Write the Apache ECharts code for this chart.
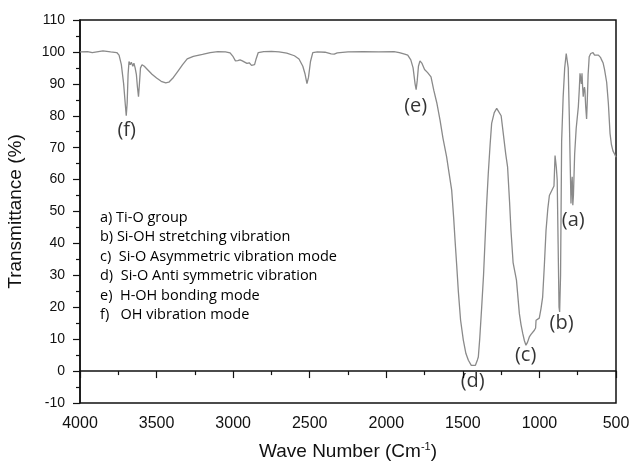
<!DOCTYPE html>
<html>
<head>
<meta charset="utf-8">
<script src="https://cdn.jsdelivr.net/npm/echarts@6/dist/echarts.min.js"></script>
<style>
  html, body { margin: 0; padding: 0; background: #fff; }
  #chart { width: 632px; height: 461px; }
</style>
</head>
<body>
<div id="chart"></div>
<script>
// FTIR spectrum: wave number (cm^-1) and transmittance (%)
const waveNumber = [
  4000, 3950, 3920, 3850, 3800, 3760, 3745, 3730, 3715, 3705, 3698, 3692, 3686, 3680,
  3672, 3665, 3655, 3648, 3640, 3632, 3625, 3618, 3612, 3605, 3595, 3580, 3560, 3530,
  3500, 3470, 3440, 3420, 3390, 3360, 3330, 3300, 3260, 3200, 3150, 3100, 3050, 3020,
  3000, 2985, 2970, 2955, 2940, 2925, 2910, 2895, 2880, 2870, 2860, 2850, 2836, 2800,
  2750, 2700, 2650, 2600, 2570, 2545, 2530, 2518, 2508, 2495, 2480, 2450, 2400, 2360,
  2340, 2320, 2250, 2150, 2050, 1950, 1915, 1880, 1860, 1840, 1825, 1812, 1805, 1798,
  1790, 1780, 1768, 1750, 1730, 1708, 1690, 1670, 1649, 1630, 1606, 1590, 1573, 1560,
  1551, 1540, 1530, 1515, 1497, 1480, 1464, 1445, 1432, 1418, 1405, 1399, 1390, 1377,
  1365, 1355, 1345, 1334, 1322, 1312, 1295, 1279, 1266, 1250, 1235, 1220, 1208, 1195,
  1186, 1172, 1160, 1150, 1131, 1120, 1109, 1098, 1088, 1078, 1066, 1055, 1045, 1033,
  1025, 1022, 1010, 1001, 990, 979, 968, 957, 945, 935, 928, 915, 905, 898,
  890, 884, 878, 872, 868, 862, 855, 845, 835, 825, 818, 812, 805, 800,
  797, 794, 790, 786, 782, 778, 770, 760, 746, 740, 735, 730, 726, 722,
  718, 714, 710, 706, 703, 698, 692, 688, 682, 675, 665, 659, 650, 640,
  627, 615, 600, 594, 584, 575, 561, 550, 539, 530, 520, 506, 500
];
const transmittance = [
  100, 100.1, 99.8, 100.3, 100, 99.8, 99, 96, 90, 84, 80, 84, 93, 97,
  96, 96.8, 95.5, 96.5, 95, 93, 89, 86, 90, 95, 96, 95.5, 94.5, 93,
  91.8, 90.8, 90.3, 90.5, 92, 94, 96, 97.8, 98.6, 99.2, 99.8, 100.1, 100, 99.7,
  98.5, 97.2, 97.3, 97.5, 97.2, 96.8, 96.4, 96.6, 95.8, 95.4, 96, 97.8, 99.8, 100.1,
  100.2, 100, 99.6, 98.8, 97.8, 95.5, 93, 90.1, 92, 97, 99.8, 100, 99.9, 99.4,
  99.3, 99.7, 100, 100.1, 100, 100.1, 99.8, 99.3, 99, 97.5, 95, 90, 88.2, 91,
  95.5, 97.2, 96.5, 94.5, 93.5, 92.2, 88, 84, 78.6, 73, 67.1, 62, 56.7, 48,
  41, 33, 25.3, 16, 9.7, 5.5, 3.4, 1.8, 1.3, 1.8, 3.5, 4.4, 10, 20.1,
  30, 41, 52, 61.9, 71, 77.6, 81, 82.3, 82, 80, 74, 68, 64, 53,
  44.2, 34, 31, 28.5, 18, 14.5, 11.8, 9.5, 8.1, 9, 10.7, 11.5, 12, 12.8,
  13.5, 15.9, 16.4, 16.6, 19.5, 23.2, 33, 44, 51, 55, 55.7, 55.8, 58, 67.5,
  64, 60, 40, 20, 18.5, 30, 72, 86, 95, 99.5, 99.7, 95, 80, 67,
  60, 52.5, 58, 60.9, 52, 55, 68, 76, 82.8, 88, 93.3, 93.6, 90, 93.3,
  89, 86, 88, 89, 88, 83, 79, 84, 93, 98.5, 99.5, 100, 99.8, 99,
  98.8, 99, 98.2, 97.5, 96.5, 94.5, 90.5, 84, 74.5, 71, 69, 67.7, 67
];

// Band markers placed next to the absorption peaks: [wave number, transmittance, tag]
const bandTags = [
  [3695, 75.3, '(f)'],
  [1808, 83.0, '(e)'],
  [1436, -3.3, '(d)'],
  [1090, 4.8, '(c)'],
  [855, 14.9, '(b)'],
  [779, 47.3, '(a)']
];

// Band assignments listed inside the plot
const assignments = [
  'a) Ti-O group',
  'b) Si-OH stretching vibration',
  'c)  Si-O Asymmetric vibration mode',
  'd)  Si-O Anti symmetric vibration',
  'e)  H-OH bonding mode',
  'f)   OH vibration mode'
];

const xTicks = { min: 500, max: 4000, step: 500 };
const yTicks = { min: -10, max: 110, step: 10 };

const spectrum = waveNumber.map((w, i) => [w, transmittance[i]]);

const chart = echarts.init(document.getElementById('chart'), null, { renderer: 'canvas' });

const axisFont = 'Liberation Sans, Arial, sans-serif';
const noteFont = 'Open Sans, sans-serif';

chart.setOption({
  animation: false,
  backgroundColor: '#fff',
  grid: {
    left: 80, right: 16, top: 20, bottom: 58,
    containLabel: false,
    outerBoundsMode: 'none',
    show: true, borderColor: '#111', borderWidth: 1.5, backgroundColor: 'transparent'
  },
  xAxis: {
    type: 'value',
    inverse: true,
    min: xTicks.min, max: xTicks.max, interval: xTicks.step,
    name: 'Wave Number (Cm{sup|-1})',
    nameLocation: 'middle',
    nameGap: 38,
    nameTextStyle: {
      fontFamily: axisFont, fontSize: 19, color: '#111',
      rich: { sup: { fontFamily: axisFont, fontSize: 11, color: '#111', verticalAlign: 'top', padding: [0, 0, 10, 0] } }
    },
    axisLine: { lineStyle: { color: '#111', width: 1.5 } },
    axisTick: { inside: false, length: 7, lineStyle: { color: '#111', width: 1.2 } },
    minorTick: { show: true, splitNumber: 2, length: 4, lineStyle: { color: '#111', width: 1.2 } },
    axisLabel: { fontFamily: axisFont, fontSize: 16, color: '#111', margin: 13, formatter: v => String(v) },
    splitLine: { show: false }
  },
  yAxis: {
    type: 'value',
    min: yTicks.min, max: yTicks.max, interval: yTicks.step,
    name: 'Transmittance (%)',
    nameLocation: 'middle',
    nameGap: 55,
    nameTextStyle: { fontFamily: axisFont, fontSize: 19, color: '#111' },
    axisLine: { show: true, lineStyle: { color: '#111', width: 1.5 } },
    axisTick: { show: true, inside: false, length: 7, lineStyle: { color: '#111', width: 1.2 } },
    minorTick: { show: true, splitNumber: 2, length: 4, lineStyle: { color: '#111', width: 1.2 } },
    axisLabel: { fontFamily: axisFont, fontSize: 14, color: '#111', margin: 15 },
    splitLine: { show: false }
  },
  series: [
    {
      type: 'line',
      data: spectrum,
      showSymbol: false,
      symbol: 'none',
      lineStyle: { color: '#8a8a8a', width: 1.3 },
      z: 3
    },
    {
      type: 'scatter',
      data: bandTags,
      symbolSize: 0,
      silent: true,
      label: {
        show: true,
        position: 'inside',
        formatter: p => p.data[2],
        fontFamily: noteFont,
        fontSize: 20,
        color: '#000'
      },
      z: 4
    }
  ],
  graphic: assignments.map((line, i) => ({
    type: 'text',
    left: 100,
    top: 210 + i * 19.5,
    style: {
      text: line,
      fontFamily: noteFont,
      fontSize: 14.5,
      fill: '#000'
    }
  }))
});
</script>
</body>
</html>
